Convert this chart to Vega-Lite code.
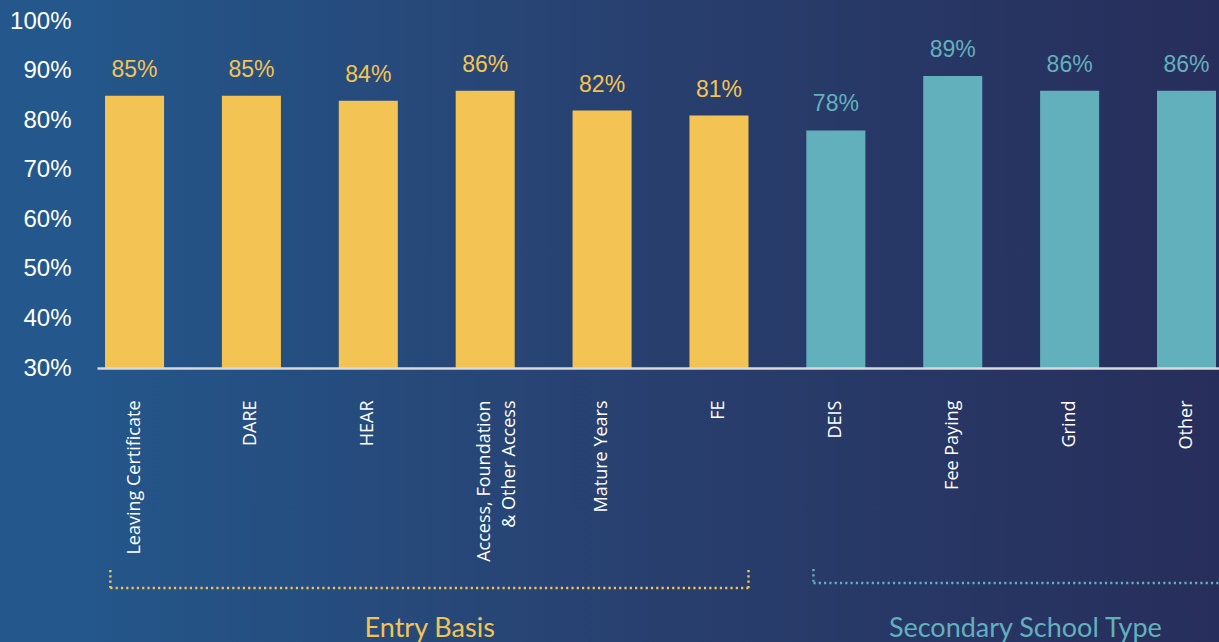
{
  "$schema": "https://vega.github.io/schema/vega-lite/v6.json",
  "width": 1122,
  "height": 642,
  "autosize": {"type": "none"},
  "padding": {"left": 97, "top": 0, "right": 0, "bottom": 0},
  "background": "#24588c",
  "view": {"stroke": null},
  "config": {
    "axis": {"grid": false, "ticks": false, "tickSize": 0, "domain": false, "labelColor": "#ffffff"}
  },
  "datasets": {
    "bars": [
      {"category": "Leaving Certificate", "value": 0.85, "group": "Entry Basis"},
      {"category": "DARE", "value": 0.85, "group": "Entry Basis"},
      {"category": "HEAR", "value": 0.84, "group": "Entry Basis"},
      {"category": "Access, Foundation & Other Access", "value": 0.86, "group": "Entry Basis"},
      {"category": "Mature Years", "value": 0.82, "group": "Entry Basis"},
      {"category": "FE", "value": 0.81, "group": "Entry Basis"},
      {"category": "DEIS", "value": 0.78, "group": "Secondary School Type"},
      {"category": "Fee Paying", "value": 0.89, "group": "Secondary School Type"},
      {"category": "Grind", "value": 0.86, "group": "Secondary School Type"},
      {"category": "Other", "value": 0.86, "group": "Secondary School Type"}
    ]
  },
  "layer": [
    {
      "data": {"values": [{"bg": 1}]},
      "mark": {"type": "rect", "fill": {"gradient": "linear", "x1": 0, "y1": 0, "x2": 1, "y2": 0, "stops": [{"offset": 0, "color": "#24568a"}, {"offset": 0.5, "color": "#283f6e"}, {"offset": 1, "color": "#272e5b"}]}},
      "encoding": {}
    },
    {
      "data": {"name": "bars"},
      "mark": {"type": "bar"},
      "encoding": {
        "x": {
          "field": "category", "type": "nominal", "title": null,
          "scale": {
            "domain": ["Leaving Certificate", "DARE", "HEAR", "Access, Foundation & Other Access", "Mature Years", "FE", "DEIS", "Fee Paying", "Grind", "Other"],
            "paddingInner": 0.495, "paddingOuter": 0.047, "align": 0.73, "round": false
          },
          "axis": {
            "orient": "bottom", "offset": -274, "zindex": 2, "domain": true, "domainColor": "#d9d9d9", "domainWidth": 2.5,
            "labelAngle": 270, "labelAlign": "right", "labelBaseline": "middle", "labelPadding": 32,
            "labelFont": "Open Sans", "labelFontSize": 18, "labelColor": "#ffffff", "labelLimit": 400,
            "labelLineHeight": 25, "labelOverlap": false,
            "labelExpr": "datum.label == 'Access, Foundation & Other Access' ? ['Access, Foundation', '& Other Access'] : datum.label",
            "title": null
          }
        },
        "y": {
          "field": "value", "type": "quantitative", "title": null,
          "scale": {"domain": [-0.2535, 1.0434], "nice": false, "zero": false},
          "axis": {
            "values": [0.3, 0.4, 0.5, 0.6, 0.7, 0.8, 0.9, 1.0], "format": ".0%", "zindex": 2,
            "labelFont": "Liberation Sans", "labelFontSize": 24, "labelPadding": 26, "labelColor": "#ffffff",
            "labelBaseline": "middle", "title": null
          }
        },
        "y2": {"datum": 0.3},
        "color": {
          "field": "group", "type": "nominal", "legend": null,
          "scale": {"domain": ["Entry Basis", "Secondary School Type"], "range": ["#f3c453", "#63b0bd"]}
        }
      }
    },
    {
      "data": {"name": "bars"},
      "mark": {"type": "text", "dy": -19, "baseline": "alphabetic", "align": "center", "font": "Liberation Sans", "fontSize": 23},
      "encoding": {
        "x": {"field": "category", "type": "nominal", "title": null},
        "y": {"field": "value", "type": "quantitative", "title": null},
        "text": {"field": "value", "type": "quantitative", "format": ".0%"},
        "color": {"field": "group", "type": "nominal", "legend": null}
      }
    },
    {
      "data": {"values": [{"category": "Leaving Certificate", "end": "FE", "group": "Entry Basis"}]},
      "mark": {"type": "rule", "strokeDash": [2.2, 3.1], "strokeWidth": 2.4, "strokeCap": "butt"},
      "encoding": {
        "x": {"field": "category", "type": "nominal", "bandPosition": 0.09, "title": null},
        "x2": {"field": "end", "bandPosition": 1},
        "y": {"datum": -0.1445, "type": "quantitative", "title": null},
        "color": {"field": "group", "type": "nominal", "legend": null}
      }
    },
    {
      "data": {"values": [{"category": "Leaving Certificate", "group": "Entry Basis"}]},
      "mark": {"type": "rule", "strokeDash": [2.2, 3.1], "strokeWidth": 2.4, "strokeCap": "butt"},
      "encoding": {
        "x": {"field": "category", "type": "nominal", "bandPosition": 0.09, "title": null},
        "y": {"datum": -0.1081, "type": "quantitative", "title": null},
        "y2": {"datum": -0.1445},
        "color": {"field": "group", "type": "nominal", "legend": null}
      }
    },
    {
      "data": {"values": [{"category": "FE", "group": "Entry Basis"}]},
      "mark": {"type": "rule", "strokeDash": [2.2, 3.1], "strokeWidth": 2.4, "strokeCap": "butt"},
      "encoding": {
        "x": {"field": "category", "type": "nominal", "bandPosition": 1, "title": null},
        "y": {"datum": -0.1081, "type": "quantitative", "title": null},
        "y2": {"datum": -0.1445},
        "color": {"field": "group", "type": "nominal", "legend": null}
      }
    },
    {
      "data": {"values": [{"category": "DEIS", "end": "Other", "group": "Secondary School Type"}]},
      "mark": {"type": "rule", "strokeDash": [2.2, 3.1], "strokeWidth": 2.4, "strokeCap": "butt"},
      "encoding": {
        "x": {"field": "category", "type": "nominal", "bandPosition": 0.12, "title": null},
        "x2": {"field": "end", "bandPosition": 1.2},
        "y": {"datum": -0.1344, "type": "quantitative", "title": null},
        "color": {"field": "group", "type": "nominal", "legend": null}
      }
    },
    {
      "data": {"values": [{"category": "DEIS", "group": "Secondary School Type"}]},
      "mark": {"type": "rule", "strokeDash": [2.2, 3.1], "strokeWidth": 2.4, "strokeCap": "butt"},
      "encoding": {
        "x": {"field": "category", "type": "nominal", "bandPosition": 0.12, "title": null},
        "y": {"datum": -0.1061, "type": "quantitative", "title": null},
        "y2": {"datum": -0.1344},
        "color": {"field": "group", "type": "nominal", "legend": null}
      }
    },
    {
      "data": {"values": [{"category": "HEAR", "group": "Entry Basis"}]},
      "mark": {"type": "text", "font": "Lato", "fontSize": 27, "align": "center", "baseline": "alphabetic"},
      "encoding": {
        "x": {"field": "category", "type": "nominal", "bandPosition": 1.54, "title": null},
        "y": {"datum": -0.2435, "type": "quantitative", "title": null},
        "text": {"field": "group"},
        "color": {"field": "group", "type": "nominal", "legend": null}
      }
    },
    {
      "data": {"values": [{"category": "Fee Paying", "group": "Secondary School Type"}]},
      "mark": {"type": "text", "font": "Lato", "fontSize": 27, "align": "center", "baseline": "alphabetic"},
      "encoding": {
        "x": {"field": "category", "type": "nominal", "bandPosition": 1.73, "title": null},
        "y": {"datum": -0.2435, "type": "quantitative", "title": null},
        "text": {"field": "group"},
        "color": {"field": "group", "type": "nominal", "legend": null}
      }
    }
  ]
}
